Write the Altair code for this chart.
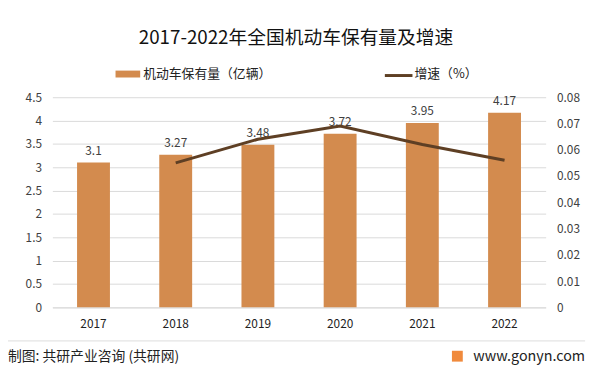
import altair as alt
import pandas as pd

years = ["2017", "2018", "2019", "2020", "2021", "2022"]
stock = [3.1, 3.27, 3.48, 3.72, 3.95, 4.17]
growth = [None, 0.055, 0.064, 0.069, 0.062, 0.056]
left_ticks = [0, 0.5, 1, 1.5, 2, 2.5, 3, 3.5, 4, 4.5]
right_ticks = [0, 0.01, 0.02, 0.03, 0.04, 0.05, 0.06, 0.07, 0.08]
title_text = "2017-2022年全国机动车保有量及增速"
bar_name = "机动车保有量（亿辆）"
line_name = "增速（%）"
source_text = "制图: 共研产业咨询 (共研网)"
site_text = "www.gonyn.com"

FONT = "Noto Sans CJK SC"
BAR = "#D38B4E"
LINE = "#5E3F24"
GRID = "#D9D9D9"
TXT = "#404040"

df = pd.DataFrame({"year": years, "stock": stock, "growth": growth})

x = alt.X(
    "year:N",
    sort=years,
    scale=alt.Scale(paddingInner=0.6, paddingOuter=0.3),
    axis=alt.Axis(title=None, labelAngle=0, domainColor=GRID, ticks=False,
                  labelPadding=11, labelFontSize=12, labelColor="#222222",
                  labelFont=FONT),
)

y_left = alt.Y("stock:Q", scale=alt.Scale(domain=[0, 4.5], nice=False),
               axis=alt.Axis(title=None, values=left_ticks, format="~g", domain=False,
                             ticks=False, gridColor=GRID, labelPadding=11,
                             labelFontSize=12, labelColor=TXT, labelFont=FONT))

bars = alt.Chart(df).mark_bar(color=BAR).encode(x=x, y=y_left)

labels = alt.Chart(df).mark_text(baseline="bottom", dy=-5, fontSize=12,
                                 color=TXT, font=FONT).encode(
    x=x,
    y=y_left,
    text=alt.Text("stock:Q", format="~g"),
)

left = alt.layer(bars, labels)

line = alt.Chart(df).transform_filter("datum.growth != null").mark_line(
    color=LINE, strokeWidth=3
).encode(
    x=x,
    y=alt.Y("growth:Q", scale=alt.Scale(domain=[0, 0.08], nice=False),
            axis=alt.Axis(title=None, orient="right", values=right_ticks, format="~g",
                          domain=False, ticks=False, grid=False, labelPadding=11,
                          labelFontSize=12, labelColor=TXT, labelFont=FONT)),
)

one = pd.DataFrame({"k": [0]})

def text_layer(txt, xv, yv, size, align="left", color=TXT, weight="normal"):
    return alt.Chart(one).mark_text(
        text=txt, align=align, baseline="middle", fontSize=size, color=color,
        font=FONT, fontWeight=weight
    ).encode(x=alt.value(xv), y=alt.value(yv))

title = text_layer(title_text, 247, -60, 19, align="center", color="#111111")
leg_bar = alt.Chart(one).mark_rect(color=BAR).encode(
    x=alt.value(64), x2=alt.value(89), y=alt.value(-27), y2=alt.value(-20))
leg_bar_t = text_layer(bar_name, 92, -23, 13, color="#222222")
leg_line = alt.Chart(one).mark_rule(color=LINE, strokeWidth=3).encode(
    x=alt.value(337), x2=alt.value(365), y=alt.value(-22))
leg_line_t = text_layer(line_name, 367, -23, 13, color="#222222")
sep = alt.Chart(one).mark_rule(color="#DCDCDC", strokeWidth=1).encode(
    x=alt.value(-45), x2=alt.value(540), y=alt.value(247))
src = text_layer(source_text, -45, 263, 14, color="#222222")
logo = alt.Chart(one).mark_rect(color="#F08A3C").encode(
    x=alt.value(405), x2=alt.value(416), y=alt.value(257), y2=alt.value(268))
site = text_layer(site_text, 540, 263, 14.5, align="right", color="#222222")

chart = alt.layer(
    left, line, title, leg_bar, leg_bar_t, leg_line, leg_line_t, sep, src, logo, site
).resolve_scale(y="independent").properties(
    width=500, height=213,
    padding={"left": 45, "top": 88, "right": 48, "bottom": 58},
    autosize=alt.AutoSizeParams(type="none"),
    background="white",
).configure_view(stroke=None)

chart.save("out.html", embed_options={"renderer": "svg", "actions": False})
